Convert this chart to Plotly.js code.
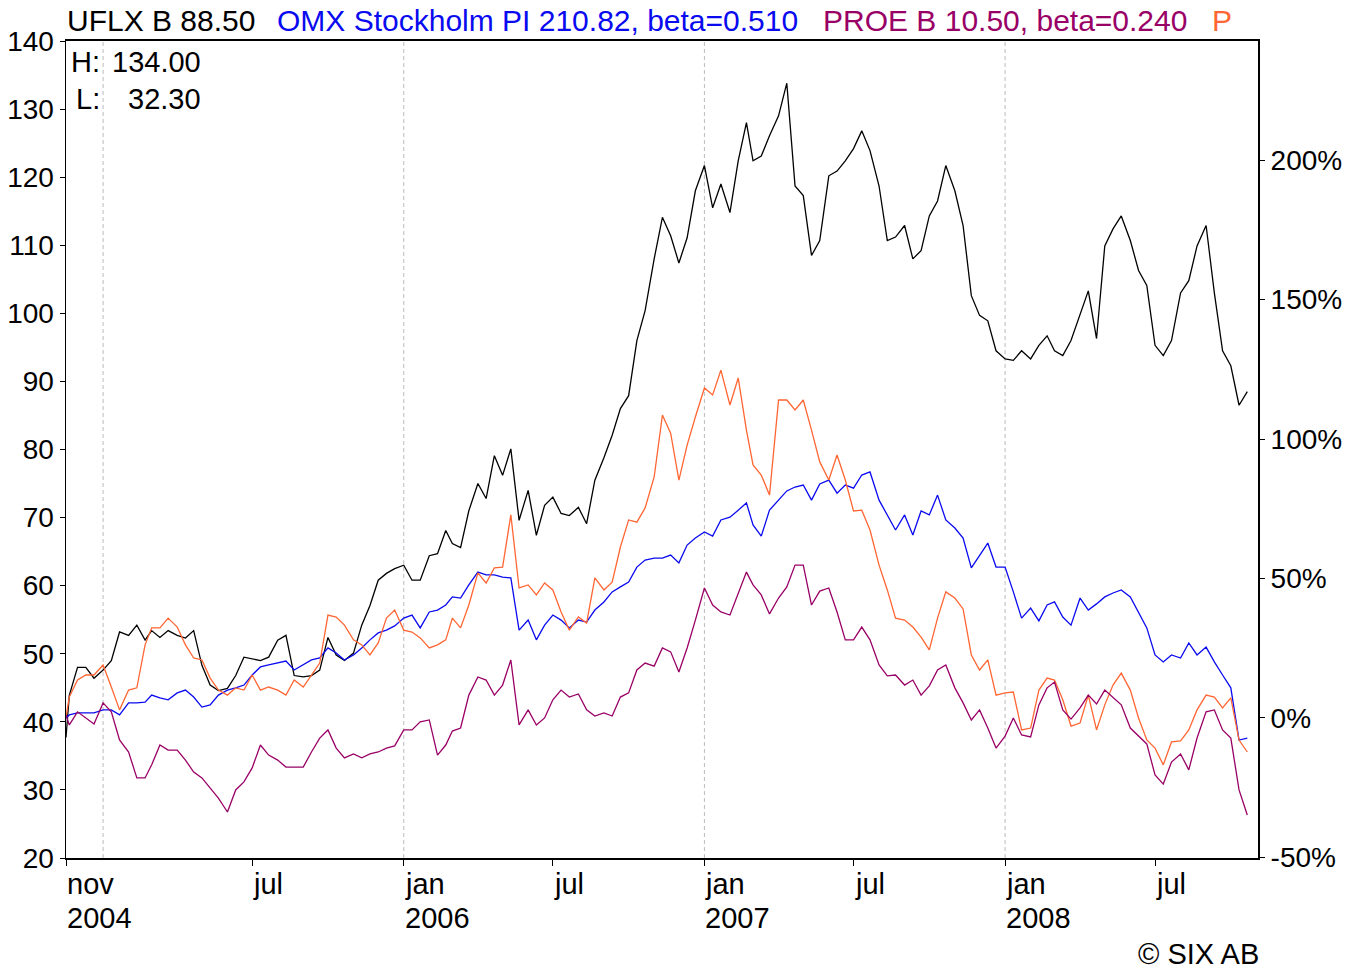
<!DOCTYPE html>
<html>
<head>
<meta charset="utf-8">
<script src="https://cdn.plot.ly/plotly-3.0.1.min.js"></script>
<style>
html,body{margin:0;padding:0;background:#fff;}
#chart{width:1348px;height:971px;}
</style>
</head>
<body>
<div id="chart"></div>
<script>
const dates = [
'2004-11-17','2004-11-21','2004-12-01','2004-12-11','2004-12-21',
'2005-01-01','2005-01-11','2005-01-21','2005-02-01','2005-02-11','2005-02-21','2005-03-01','2005-03-11','2005-03-21',
'2005-04-01','2005-04-11','2005-04-21','2005-05-01','2005-05-11','2005-05-21','2005-06-01','2005-06-11','2005-06-21',
'2005-07-01','2005-07-11','2005-07-21','2005-08-01','2005-08-11','2005-08-21','2005-09-01','2005-09-11','2005-09-21',
'2005-10-01','2005-10-11','2005-10-21','2005-11-01','2005-11-11','2005-11-21','2005-12-01','2005-12-11','2005-12-21',
'2006-01-01','2006-01-11','2006-01-21','2006-02-01','2006-02-11','2006-02-21','2006-03-01','2006-03-11','2006-03-21',
'2006-04-01','2006-04-11','2006-04-21','2006-05-01','2006-05-11','2006-05-21','2006-06-01','2006-06-11','2006-06-21',
'2006-07-01','2006-07-11','2006-07-21','2006-08-01','2006-08-11','2006-08-21','2006-09-01','2006-09-11','2006-09-21',
'2006-10-01','2006-10-11','2006-10-21','2006-11-01','2006-11-11','2006-11-21','2006-12-01','2006-12-11','2006-12-21',
'2007-01-01','2007-01-11','2007-01-21','2007-02-01','2007-02-11','2007-02-21','2007-03-01','2007-03-11','2007-03-21',
'2007-04-01','2007-04-11','2007-04-21','2007-05-01','2007-05-11','2007-05-21','2007-06-01','2007-06-11','2007-06-21',
'2007-07-01','2007-07-11','2007-07-21','2007-08-01','2007-08-11','2007-08-21','2007-09-01','2007-09-11','2007-09-21',
'2007-10-01','2007-10-11','2007-10-21','2007-11-01','2007-11-11','2007-11-21','2007-12-01','2007-12-11','2007-12-21',
'2008-01-01','2008-01-11','2008-01-21','2008-02-01','2008-02-11','2008-02-21','2008-03-01','2008-03-11','2008-03-21',
'2008-04-01','2008-04-11','2008-04-21','2008-05-01','2008-05-11','2008-05-21','2008-06-01','2008-06-11','2008-06-21',
'2008-07-01','2008-07-11','2008-07-21','2008-08-01','2008-08-11','2008-08-21','2008-09-01','2008-09-11','2008-09-21',
'2008-10-01','2008-10-11','2008-10-21'
];

// UFLX B price (SEK, left axis)
const uflx = [
37.7,43.9,48.0,48.0,46.4,
47.6,49.0,53.2,52.7,54.2,52.0,53.4,52.4,53.4,
52.7,52.3,53.4,48.3,45.4,44.6,44.9,46.8,49.5,
49.3,49.0,49.5,52.0,52.7,46.8,46.6,46.8,47.6,
52.4,49.8,49.0,50.1,54.2,57.1,60.8,61.8,62.5,
63.0,60.8,60.8,64.4,64.7,68.1,66.2,65.6,71.0,
75.0,72.8,79.1,76.2,80.1,69.6,74.0,67.4,71.8,
73.0,70.6,70.3,71.5,69.1,75.5,78.8,82.1,86.0,
87.9,96.0,100.4,108.0,114.1,111.4,107.4,111.1,118.0,
121.7,115.5,119.0,114.8,122.4,128.0,122.4,123.1,126.1,
129.0,133.8,118.7,117.3,108.5,110.7,120.2,120.9,122.4,
124.2,126.8,123.9,118.7,110.7,111.2,112.9,108.0,109.2,
114.3,116.5,121.7,118.0,112.9,102.6,99.7,98.9,94.5,
93.3,93.1,94.5,93.3,95.3,96.7,94.5,93.8,96.0,
99.7,103.3,96.3,109.9,112.4,114.3,110.7,106.3,104.1,
95.3,93.8,96.0,103.0,104.8,109.9,112.9,103.0,94.5,
92.3,86.5,88.5
];

// OMX Stockholm PI, change in % (right axis)
const omx = [
0,1.1,1.8,1.8,1.8,
2.9,2.9,1.1,5.4,5.4,5.7,8.2,7.2,6.5,
9.0,10.0,7.5,3.9,4.7,8.2,10.0,10.8,11.8,
15.4,18.3,19.0,19.7,20.4,17.2,19.0,20.8,21.5,
25.1,23.3,20.8,22.6,25.1,28.0,30.5,31.5,33.0,
35.8,36.9,32.3,38.0,38.7,40.5,43.4,43.0,47.7,
52.3,51.3,51.3,50.5,50.2,31.5,35.1,28.0,33.3,
36.9,35.1,32.3,35.1,34.4,38.7,41.6,45.2,47.0,
48.7,54.1,56.6,57.3,57.3,58.4,55.6,62.0,64.5,
66.7,65.2,71.0,72.0,74.5,77.1,69.2,65.2,74.5,
78.1,81.4,82.8,83.5,78.1,83.9,85.3,80.6,83.5,
82.4,87.1,88.2,78.1,72.8,67.4,72.8,65.6,74.2,
72.8,79.9,71.0,68.1,64.5,53.8,58.1,62.7,54.1,
54.1,45.2,35.8,39.4,34.8,40.5,41.6,36.2,33.3,
43.0,38.7,40.9,43.4,44.8,45.9,43.4,38.0,32.3,
22.6,20.1,22.6,21.5,26.9,22.6,25.4,20.1,15.4,
10.8,-7.9,-7.2
];

// PROE B, change in % (right axis)
const proe = [
1.1,-2.5,2.2,0,-2.2,
5.4,2.2,-7.9,-12.2,-21.5,-21.5,-16.8,-9.7,-11.5,
-11.5,-15.1,-19.4,-21.5,-25.1,-28.7,-33.7,-25.8,-22.9,
-17.9,-9.7,-13.3,-15.1,-17.6,-17.6,-17.6,-12.2,-7.2,
-4.3,-10.8,-14.3,-12.9,-14.3,-12.9,-12.2,-10.8,-10.0,
-4.3,-4.3,-1.4,-0.7,-13.3,-9.7,-4.7,-3.6,8.2,
14.7,13.6,8.2,11.8,20.8,-2.5,2.9,-2.5,0,
6.5,10.0,7.5,8.6,2.9,0.7,1.8,0.7,7.5,
9.0,17.2,19.7,18.6,25.1,23.7,16.5,25.1,35.1,
46.6,40.5,38.0,36.9,44.8,52.3,47.7,44.1,37.3,
43.0,47.0,54.8,54.8,40.5,45.5,46.6,38.0,28.0,
28.0,32.6,28.0,19.0,15.1,15.4,11.8,13.6,8.2,
11.5,17.2,19.0,10.8,5.4,-0.7,2.9,-3.6,-10.8,
-6.5,0,-6.1,-6.8,4.7,10.8,12.9,2.9,-0.4,
3.6,8.2,5.0,10.0,7.5,4.7,-3.6,-6.5,-9.3,
-20.4,-23.7,-15.8,-12.9,-18.6,-7.2,2.2,2.9,-4.3,
-7.2,-25.8,-34.8
];

// P... (orange), change in % (right axis)
const pser = [
0.4,7.5,13.6,15.4,15.4,
19.0,11.1,2.9,10.0,10.8,26.2,32.3,32.3,35.8,
32.6,26.2,21.5,20.8,14.3,10.0,8.2,10.8,10.0,
15.4,10.0,11.1,10.0,8.2,13.6,11.1,15.4,19.7,
36.9,36.2,33.3,28.0,26.2,22.6,26.9,35.8,38.7,
31.5,30.8,28.7,25.1,26.2,28.0,35.8,32.3,40.5,
52.0,48.4,53.8,54.1,72.8,46.6,47.7,44.1,48.4,
45.9,38.0,31.5,36.2,34.0,50.2,45.9,48.7,61.3,
71.0,70.2,75.3,86.4,108.6,102.1,85.3,97.8,107.9,
118.3,115.8,124.7,112.2,121.9,103.2,90.7,87.1,79.9,
114.0,114.0,110.4,114.0,103.2,91.8,85.3,94.3,85.3,
74.2,74.5,67.4,54.8,45.9,35.8,35.1,32.6,29.0,
24.4,35.8,45.2,43.0,39.1,22.6,17.2,20.8,8.2,
9.0,9.3,-4.3,-3.6,10.0,14.3,13.6,6.5,-2.9,
-1.8,8.2,-4.3,4.7,11.8,16.1,10.0,0,-7.9,
-10.8,-16.8,-8.6,-8.2,-4.3,2.9,8.2,7.5,3.6,
7.2,-7.9,-12.2
];

const leftTicks = [20,30,40,50,60,70,80,90,100,110,120,130,140];
const rightTicks = [-50,0,50,100,150,200];
const rightTickText = ['-50%','0%','50%','100%','150%','200%'];
const xTickDates = ['2004-11-17','2005-07-01','2006-01-01','2006-07-01','2007-01-01','2007-07-01','2008-01-01','2008-07-01'];
const xTickMonth = ['nov','jul','jan','jul','jan','jul','jan','jul'];
const xTickYear = ['2004','','2006','','2007','','2008',''];
const gridDates = ['2005-01-01','2006-01-01','2007-01-01','2008-01-01'];

const FONT = 'Liberation Sans, Arial, sans-serif';
const C_BLACK = '#000000', C_BLUE = '#0a0af0', C_PURPLE = '#990066', C_ORANGE = '#ff6633';

const traces = [
  {x: dates, y: omx, yaxis: 'y2', mode: 'lines', line: {color: C_BLUE, width: 1.3}, hoverinfo: 'skip'},
  {x: dates, y: pser, yaxis: 'y2', mode: 'lines', line: {color: C_ORANGE, width: 1.3}, hoverinfo: 'skip'},
  {x: dates, y: proe, yaxis: 'y2', mode: 'lines', line: {color: C_PURPLE, width: 1.3}, hoverinfo: 'skip'},
  {x: dates, y: uflx, yaxis: 'y', mode: 'lines', line: {color: C_BLACK, width: 1.3}, hoverinfo: 'skip'}
];

const annotations = [];
const titleParts = [
  {t: 'UFLX B 88.50', c: C_BLACK, x: 0.0017},
  {t: 'OMX Stockholm PI 210.82, beta=0.510', c: C_BLUE, x: 0.1779},
  {t: 'PROE B 10.50, beta=0.240', c: C_PURPLE, x: 0.6359},
  {t: 'P', c: C_ORANGE, x: 0.9622}
];
titleParts.forEach(p => annotations.push({
  text: p.t, xref: 'paper', yref: 'paper', x: p.x, y: 1.0257, xanchor: 'left', yanchor: 'middle', xshift: -3,
  showarrow: false, font: {family: FONT, size: 30, color: p.c}
}));
[['H:', '134.00', 0.9743], ['L:', '32.30', 0.929]].forEach(r => {
  annotations.push({text: r[0], xref: 'paper', yref: 'paper', x: 0.0285, y: r[2], xanchor: 'right', yanchor: 'middle',
    xshift: 2, showarrow: false, font: {family: FONT, size: 29, color: '#000'}});
  annotations.push({text: r[1], xref: 'paper', yref: 'paper', x: 0.1133, y: r[2], xanchor: 'right', yanchor: 'middle',
    xshift: 2, showarrow: false, font: {family: FONT, size: 29, color: '#000'}});
});
xTickDates.forEach((d, i) => {
  annotations.push({text: xTickMonth[i], xref: 'x', yref: 'paper', x: d, y: -0.032, xanchor: 'left', yanchor: 'middle',
    xshift: -1, showarrow: false, font: {family: FONT, size: 29, color: '#000'}});
  if (xTickYear[i]) annotations.push({text: xTickYear[i], xref: 'x', yref: 'paper', x: d, y: -0.0734, xanchor: 'left', yanchor: 'middle',
    xshift: -1, showarrow: false, font: {family: FONT, size: 29, color: '#000'}});
});
annotations.push({text: '© SIX AB', xref: 'paper', yref: 'paper', x: 1.0, y: -0.1383, xanchor: 'right', yanchor: 'bottom',
  xshift: 2, borderpad: 0, showarrow: false, font: {family: FONT, size: 29, color: '#000'}});

const shapes = gridDates.map(d => ({
  type: 'line', xref: 'x', yref: 'paper', x0: d, x1: d, y0: 0, y1: 1,
  line: {color: '#bbbbbb', width: 1, dash: '4px,3px'}, layer: 'below'
}));

const layout = {
  width: 1348, height: 971,
  margin: {l: 66, r: 90, t: 41, b: 113, pad: 0},
  paper_bgcolor: '#ffffff', plot_bgcolor: '#ffffff',
  showlegend: false,
  font: {family: FONT, size: 29, color: '#000'},
  xaxis: {
    type: 'date', range: ['2004-11-17', '2008-11-03'],
    showgrid: false, zeroline: false,
    showline: true, linecolor: '#000', linewidth: 2, mirror: true,
    tickmode: 'array', tickvals: xTickDates, ticks: 'outside', ticklen: 6, tickcolor: '#000',
    showticklabels: false
  },
  yaxis: {
    range: [20, 140], tickmode: 'array', tickvals: leftTicks,
    showgrid: false, zeroline: false,
    showline: true, linecolor: '#000', linewidth: 1.5, mirror: true,
    ticks: 'outside', ticklen: 5, tickcolor: '#000',
    tickfont: {family: FONT, size: 28, color: '#000'}, ticklabelstandoff: 0
  },
  yaxis2: {
    overlaying: 'y', side: 'right', range: [-50.2, 242.7],
    tickmode: 'array', tickvals: rightTicks, ticktext: rightTickText,
    showgrid: false, zeroline: false, showline: false,
    ticks: 'outside', ticklen: 6, tickcolor: '#000',
    tickfont: {family: FONT, size: 28, color: '#000'}
  },
  annotations: annotations,
  shapes: shapes
};

Plotly.newPlot('chart', traces, layout, {staticPlot: true, displayModeBar: false});
</script>
</body>
</html>
